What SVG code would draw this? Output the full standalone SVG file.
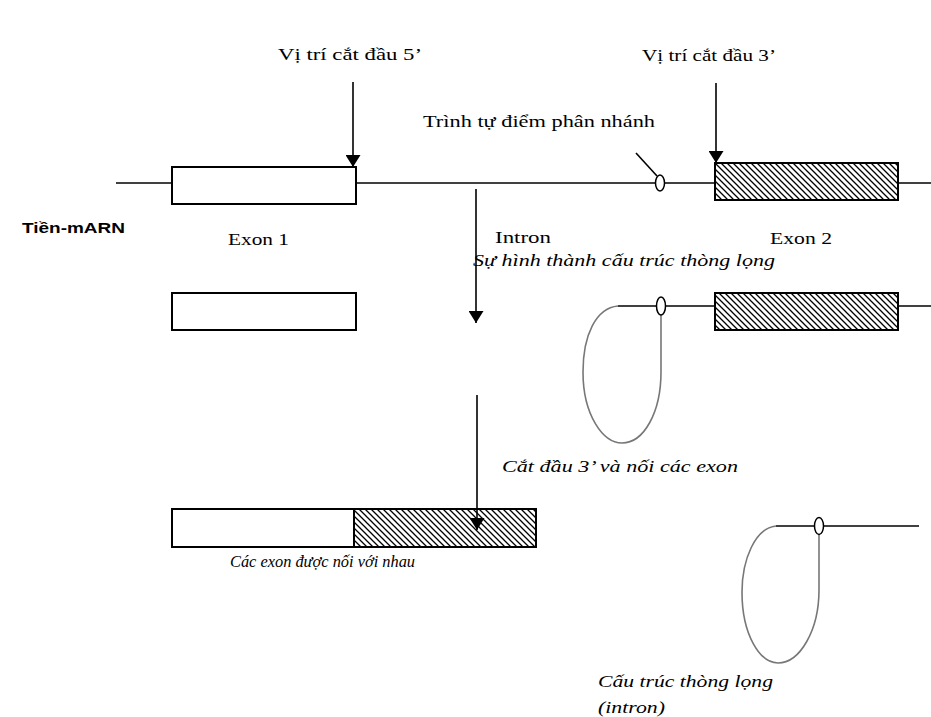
<svg xmlns="http://www.w3.org/2000/svg" width="931" height="717" viewBox="0 0 931 717">
<style>
.ln{stroke:#000;stroke-width:1.6;fill:none}
.box{stroke:#000;stroke-width:2;fill:#fff}
.hbox{stroke:#000;stroke-width:2;fill:url(#hatch)}
.loop{stroke:#777;stroke-width:1.6;fill:none}
.bp{stroke:#000;stroke-width:1.5;fill:#fff}
.t{font-family:"Liberation Serif",serif;font-size:17px;fill:#000}
.ti{font-family:"Liberation Serif",serif;font-style:italic;font-size:17px;fill:#000}
.tb{font-family:"Liberation Sans",Arial,sans-serif;font-weight:bold;font-size:15px;fill:#000}
</style>
<defs>
<pattern id="hatch" patternUnits="userSpaceOnUse" width="6" height="6">
<rect width="6" height="6" fill="#fff"/>
<path d="M-1,-1 L7,7 M-1,5 L1,7 M5,-1 L7,1" stroke="#000" stroke-width="1.3"/>
</pattern>
<marker id="ah" markerUnits="userSpaceOnUse" markerWidth="12" markerHeight="15" viewBox="0 0 12 15" refX="12" refY="7.5" orient="auto">
<path d="M0,0 L12,7.5 L0,15 z" fill="#000"/>
</marker>
</defs>

<g id="strand1">
<line class="ln" x1="116" y1="183" x2="931" y2="183"/>
<line class="ln" x1="636" y1="153" x2="657" y2="176"/>
</g>
<g id="exon1"><rect class="box" x="172" y="167" width="184" height="37"/></g>
<g id="exon2"><rect class="hbox" x="715" y="163" width="183" height="37"/></g>
<g id="branchpoint"><ellipse class="bp" cx="660" cy="183" rx="4.5" ry="8"/></g>

<g id="exon1b"><rect class="box" x="172" y="293" width="184" height="37"/></g>

<g id="lariat1">
<line class="ln" x1="618" y1="306" x2="715" y2="306"/>
<line class="ln" x1="898" y1="306" x2="931" y2="306"/>
<path class="loop" d="M618,306 C596,308 583,335 583,372 C583,415 603,443 622,443 C644,443 661,412 661,372 L661,315"/>
<rect class="hbox" x="715" y="293" width="183" height="37"/>
<ellipse class="bp" cx="661" cy="306" rx="4.5" ry="9"/>
</g>

<g id="joined">
<rect class="box" x="172" y="509" width="182" height="38"/>
<rect class="hbox" x="354" y="509" width="182" height="38"/>
</g>

<g id="lariat2">
<line class="ln" x1="776" y1="526" x2="919" y2="526"/>
<path class="loop" d="M776,526 C755,528 742,560 742,592 C742,635 760,663 778,663 C800,663 819,630 819,590 L819,534"/>
<ellipse class="bp" cx="819" cy="526" rx="4.5" ry="8.5"/>
</g>

<g id="connectors">
<line class="ln" x1="353" y1="82" x2="353" y2="167" marker-end="url(#ah)"/>
<line class="ln" x1="716" y1="83" x2="716" y2="163" marker-end="url(#ah)"/>
<line class="ln" x1="476" y1="189" x2="476" y2="323" marker-end="url(#ah)"/>
<line class="ln" x1="477" y1="395" x2="477" y2="530" marker-end="url(#ah)"/>
</g>

<g id="labels">
<text class="t" x="278" y="60" textLength="144" lengthAdjust="spacingAndGlyphs">Vị trí cắt đầu 5’</text>
<text class="t" x="642" y="61" textLength="134" lengthAdjust="spacingAndGlyphs">Vị trí cắt đầu 3’</text>
<text class="t" x="423" y="127" textLength="232" lengthAdjust="spacingAndGlyphs">Trình tự điểm phân nhánh</text>
<text class="tb" x="22" y="233" textLength="103" lengthAdjust="spacingAndGlyphs">Tiền-mARN</text>
<text class="t" x="228" y="245" textLength="61" lengthAdjust="spacingAndGlyphs">Exon 1</text>
<text class="t" x="495" y="243" textLength="56" lengthAdjust="spacingAndGlyphs">Intron</text>
<text class="t" x="770" y="244" textLength="62" lengthAdjust="spacingAndGlyphs">Exon 2</text>
<text class="ti" x="473" y="266" textLength="302" lengthAdjust="spacingAndGlyphs">Sự hình thành cấu trúc thòng lọng</text>
<text class="ti" x="502" y="472" textLength="236" lengthAdjust="spacingAndGlyphs">Cắt đầu 3’ và nối các exon</text>
<text class="ti" x="230" y="567" textLength="185" lengthAdjust="spacingAndGlyphs">Các exon được nối với nhau</text>
<text class="ti" x="598" y="687" textLength="175" lengthAdjust="spacingAndGlyphs">Cấu trúc thòng lọng</text>
<text class="ti" x="598" y="713" textLength="67" lengthAdjust="spacingAndGlyphs">(intron)</text>
</g>
</svg>
